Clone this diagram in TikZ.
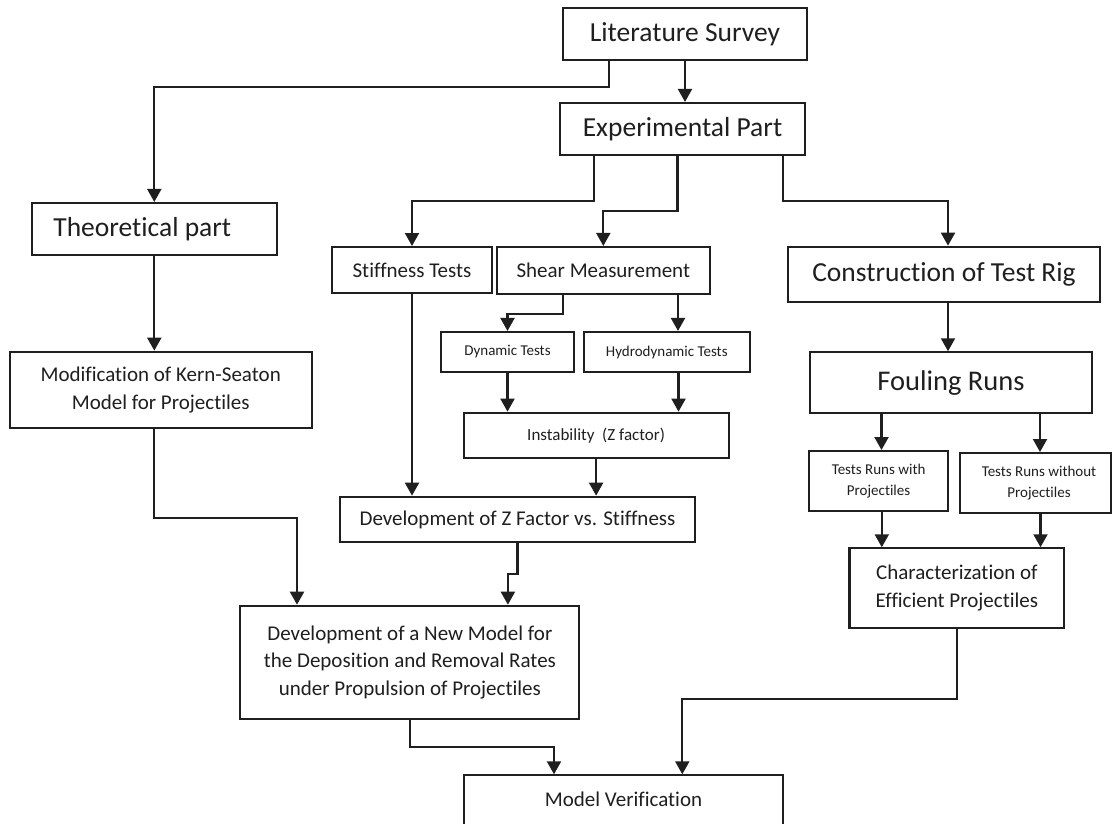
\documentclass[tikz,border=0pt]{standalone}
\usepackage{fontspec}
\setmainfont{Carlito}[Ligatures=NoCommon]
\usetikzlibrary{arrows.meta}
\begin{document}
\begin{tikzpicture}[x=1pt,y=-1pt,
  box/.style={draw=black!88, line width=2.1pt, text=black!88, inner sep=0pt},
  arr/.style={draw=black!88, line width=2.1pt, -{Triangle[width=14pt,length=13pt]}},
  big/.style={font=\fontsize{27.5}{33}\selectfont},
  huge/.style={font=\fontsize{28.5}{34}\selectfont},
  mid/.style={font=\fontsize{21}{27.7}\selectfont},
  inst/.style={font=\fontsize{17}{21}\selectfont},
  small/.style={font=\fontsize{15}{21}\selectfont}]
\useasboundingbox (0,0) rectangle (1112,824);
\fill[white] (0,0) rectangle (1112,824);

% nodes
\node[box,big,minimum width=244.8,minimum height=52] (lit) at (685,34) {Literature Survey};
\node[box,big,minimum width=245,minimum height=52] (exp) at (682.5,129) {Experimental Part};
\node[box,big,minimum width=245,minimum height=52] (theo) at (154.3,229) {Theoretical part\hspace*{24pt}};
\node[box,mid,minimum width=160,minimum height=46.3] (stiff) at (412,270.2) {Stiffness Tests};
\node[box,mid,minimum width=212.6,minimum height=47] (shear) at (603.3,270.5) {Shear Measurement};
\node[box,big,minimum width=312,minimum height=55.6] (constr) at (944,274.5) {Construction of Test Rig};
\node[box,small,minimum width=133,minimum height=40] (dyn) at (507.5,352) {Dynamic Tests};
\node[box,small,minimum width=166,minimum height=40] (hydro) at (666.8,352) {Hydrodynamic Tests};
\node[box,inst,minimum width=265,minimum height=45] (instab) at (596.1,435.2) {Instability\ \ (Z factor)};
\node[box,mid,minimum width=355,minimum height=45.6] (devz) at (517.5,519.5) {Development of Z Factor vs. Stiffness};
\node[box,mid,align=center,minimum width=302.2,minimum height=76] (modif) at (160.7,389.7) {Modification of Kern-Seaton\\Model for Projectiles};
\node[box,mid,align=center,minimum width=339,minimum height=113.3] (newm) at (409.9,662.4) {Development of a New Model for\\the Deposition and Removal Rates\\under Propulsion of Projectiles};
\node[box,mid,minimum width=318.7,text height=30.7pt,text depth=70pt,anchor=north] (mv) at (623.5,774.3) {Model Verification};
\node[box,huge,minimum width=282,minimum height=61] (foul) at (951,382.8) {Fouling Runs};
\node[box,small,align=center,minimum width=139.2,minimum height=59.5] (trw) at (878.6,480.8) {Tests Runs with\\Projectiles};
\node[box,small,align=center,minimum width=151.3,minimum height=59.5] (trwo) at (1035.2,482.8) {\hspace*{7.6pt}Tests Runs without\\\hspace*{7.6pt}Projectiles};
\node[box,mid,align=center,minimum width=214.9,minimum height=79.4] (char) at (956.9,588) {Characterization of\\Efficient Projectiles};

% connectors
\draw[arr] (lit.south -| 609.3,0) -- ++(0,26) -| (theo.north);
\draw[arr] (lit.south) -- (lit.south |- exp.north);
\draw[arr] (exp.south -| 594,0) -- ++(0,45) -| (stiff.north);
\draw[arr] (exp.south -| 677.5,0) -- ++(0,55) -| (shear.north);
\draw[arr] (exp.south -| 783.3,0) -- ++(0,45) -| (constr.north -| 948,0);
\draw[arr] (theo.south) -- (theo.south |- modif.north);
\draw[arr] (modif.south -| theo.south) -- ++(0,89) -| (newm.north -| 297,0);
\draw[arr] (stiff.south) -- (stiff.south |- devz.north);
\draw[arr] (shear.south -| 562.6,0) -- ++(0,18.7) -| (dyn.north);
\draw[arr] (shear.south -| 678,0) -- (hydro.north -| 678,0);
\draw[arr] (dyn.south) -- (dyn.south |- instab.north);
\draw[arr] (hydro.south -| 678.5,0) -- (instab.north -| 678.5,0);
\draw[arr] (instab.south) -- (instab.south |- devz.north);
\draw[arr] (devz.south) -- ++(0,31) -| (newm.north -| 507.9,0);
\draw[arr] (newm.south) -- ++(0,27) -| (mv.north -| 554,0);
\draw[arr] (char.south) -- ++(0,70) -| (mv.north -| 682.3,0);
\draw[arr] (constr.south -| 948,0) -- (foul.north -| 948,0);
\draw[arr] (foul.south -| 881.5,0) -- (trw.north -| 881.5,0);
\draw[arr] (foul.south -| 1040,0) -- (trwo.north -| 1040,0);
\draw[arr] (trw.south -| 881.8,0) -- (char.north -| 881.8,0);
\draw[arr] (trwo.south -| 1040.5,0) -- (char.north -| 1040.5,0);
\end{tikzpicture}
\end{document}
